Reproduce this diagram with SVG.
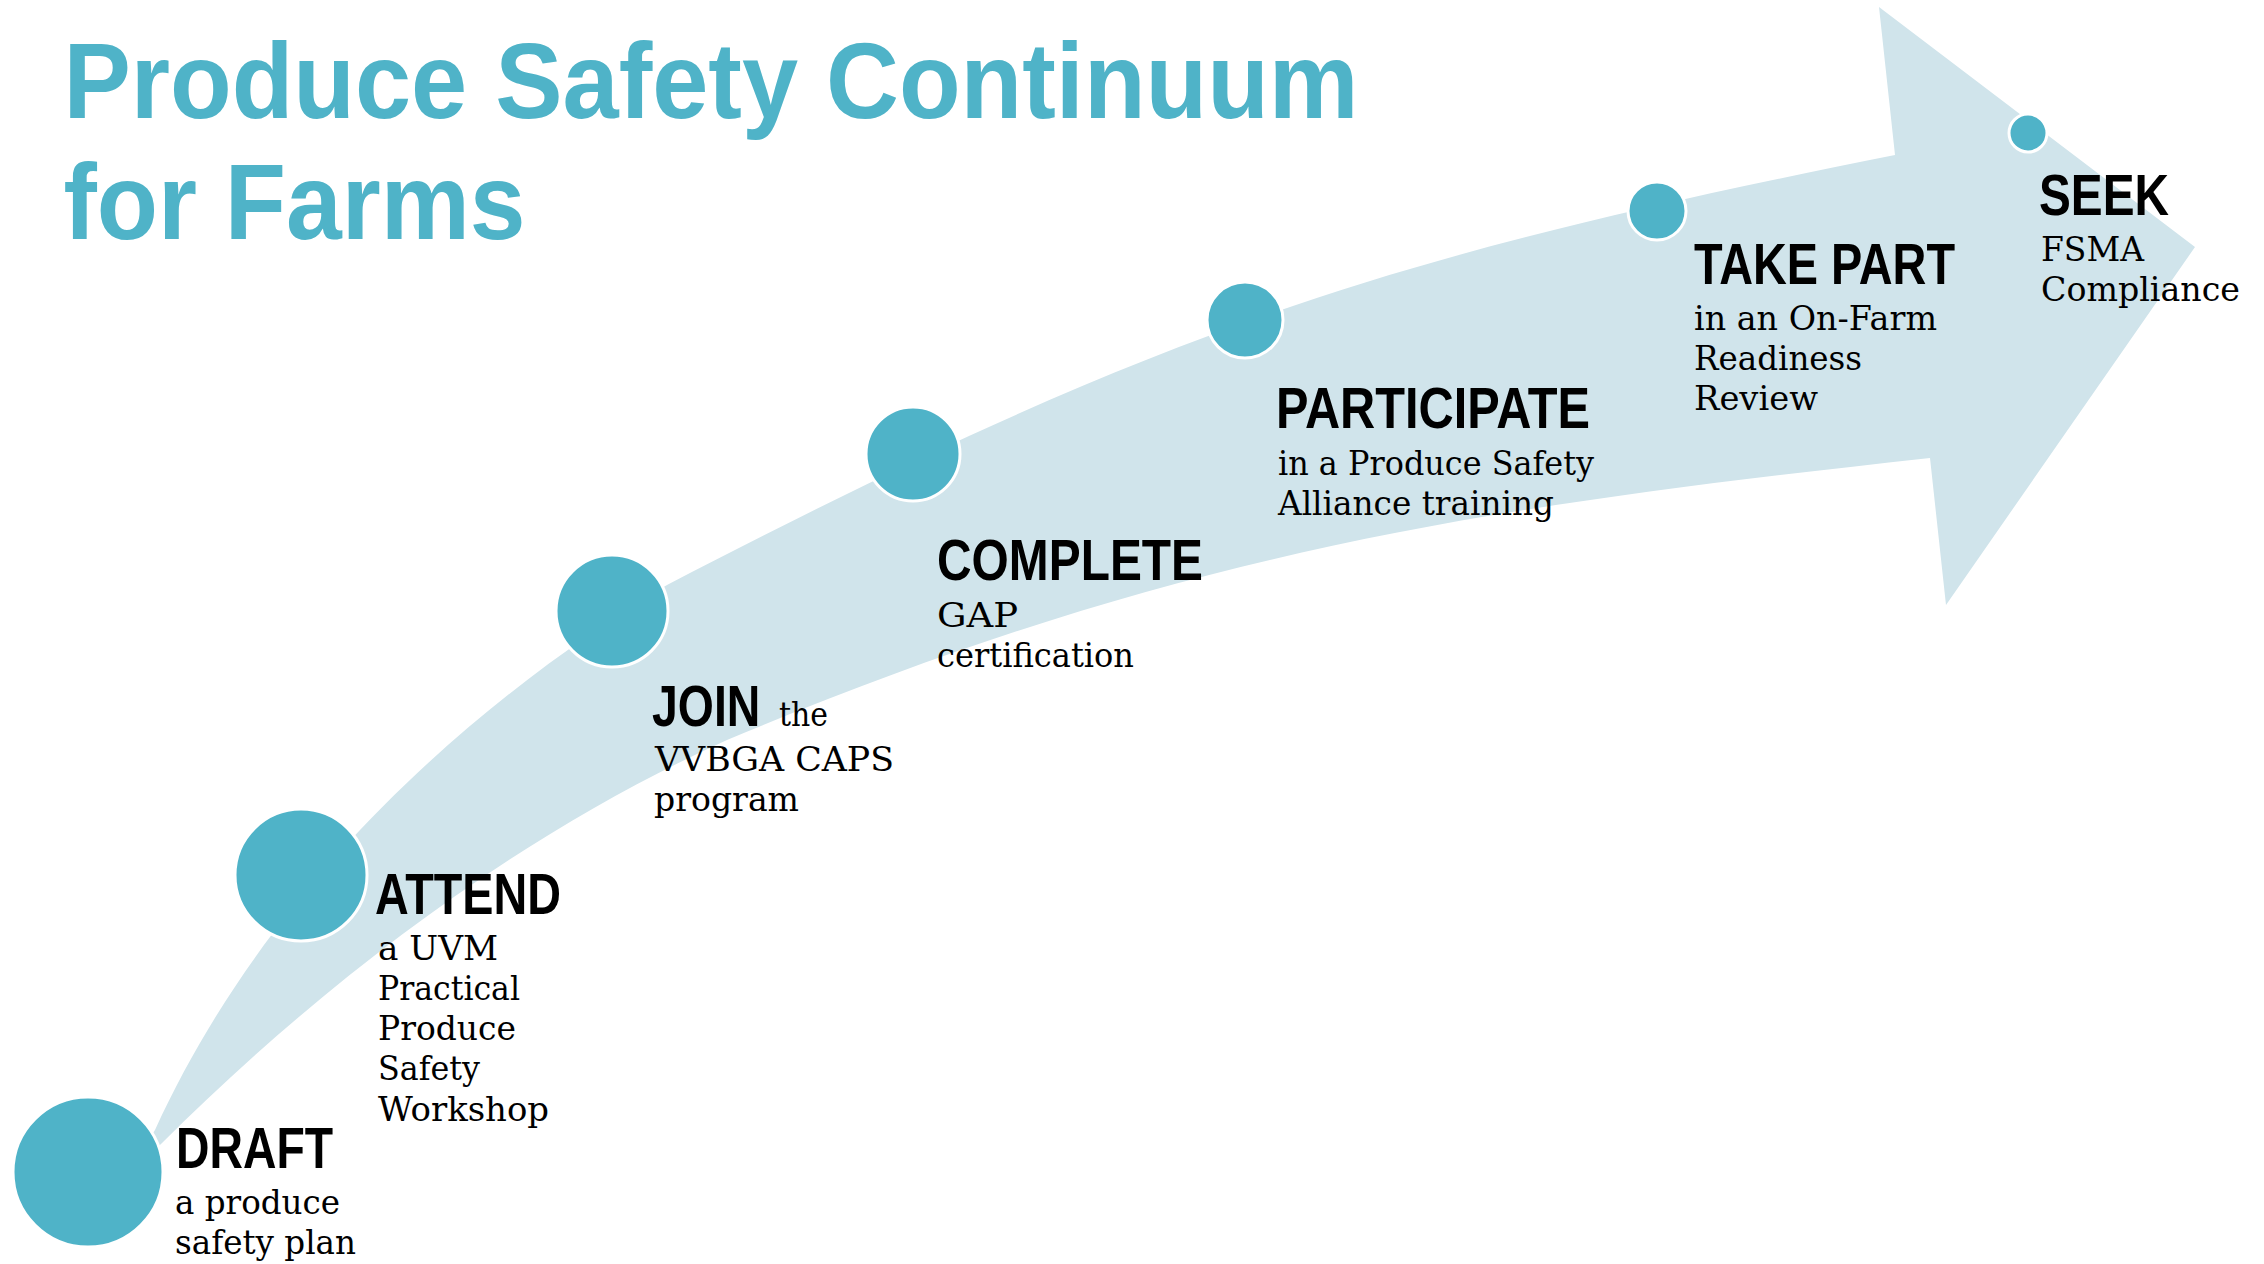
<svg xmlns="http://www.w3.org/2000/svg" width="2264" height="1264" viewBox="0 0 2264 1264">
  <style>
    .title { font-family: "Liberation Sans", Arial, sans-serif; font-weight: bold; font-size: 108px; fill: #4fb3c8; }
    .head { font-family: "Liberation Sans", Arial, sans-serif; font-weight: bold; font-size: 58px; fill: #000000; }
    .sub { font-family: "DejaVu Serif", "Liberation Serif", serif; font-size: 33px; font-weight: normal; fill: #000000; }
    .dot { fill: #4fb3c8; stroke: #ffffff; stroke-width: 3; }
    .band { fill: #d0e4eb; stroke: none; }
  </style>
  <rect x="0" y="0" width="2264" height="1264" fill="#ffffff"/>

  <g id="title">
    <text class="title" x="63.5" y="118" textLength="1295" lengthAdjust="spacingAndGlyphs">Produce Safety Continuum</text>
    <text class="title" x="63.5" y="239" textLength="462" lengthAdjust="spacingAndGlyphs">for Farms</text>
  </g>

  <g id="connectors">
    <path class="band" d="M 140 1152 L 155 1130 C 275 867, 497 687, 667 585 C 1167 325, 1395 255, 1895 155 L 1879 7 L 2195 247 L 1946 605 L 1930 458 C 1480 507.5, 1177 551, 727 740 C 527 830, 330 975, 160 1145 L 140 1158 Z"/>
  </g>

  <g id="node-draft">
    <circle class="dot" cx="88" cy="1172" r="75"/>
    <text class="head" x="176" y="1168" textLength="157" lengthAdjust="spacingAndGlyphs">DRAFT</text>
    <text class="sub" x="175" y="1214" textLength="165" lengthAdjust="spacingAndGlyphs">a produce</text>
    <text class="sub" x="175" y="1254" textLength="181" lengthAdjust="spacingAndGlyphs">safety plan</text>
  </g>

  <g id="node-attend">
    <circle class="dot" cx="301" cy="875" r="66"/>
    <text class="head" x="375" y="914" textLength="186" lengthAdjust="spacingAndGlyphs">ATTEND</text>
    <text class="sub" x="378" y="960" textLength="120" lengthAdjust="spacingAndGlyphs">a UVM</text>
    <text class="sub" x="378" y="1000" textLength="142" lengthAdjust="spacingAndGlyphs">Practical</text>
    <text class="sub" x="378" y="1040" textLength="138" lengthAdjust="spacingAndGlyphs">Produce</text>
    <text class="sub" x="378" y="1080" textLength="102" lengthAdjust="spacingAndGlyphs">Safety</text>
    <text class="sub" x="378" y="1121" textLength="171" lengthAdjust="spacingAndGlyphs">Workshop</text>
  </g>

  <g id="node-join">
    <circle class="dot" cx="612" cy="611" r="56"/>
    <text class="head" transform="translate(652 726) scale(0.8 1)" x="0" y="0">JOIN</text>
    <text class="sub" x="779" y="726" textLength="49" lengthAdjust="spacingAndGlyphs">the</text>
    <text class="sub" x="655" y="771" textLength="239" lengthAdjust="spacingAndGlyphs">VVBGA CAPS</text>
    <text class="sub" x="654" y="811" textLength="145" lengthAdjust="spacingAndGlyphs">program</text>
  </g>

  <g id="node-complete">
    <circle class="dot" cx="913" cy="454" r="47"/>
    <text class="head" x="937" y="580" textLength="266" lengthAdjust="spacingAndGlyphs">COMPLETE</text>
    <text class="sub" x="937" y="627" textLength="81" lengthAdjust="spacingAndGlyphs">GAP</text>
    <text class="sub" x="937" y="667" textLength="197" lengthAdjust="spacingAndGlyphs">certification</text>
  </g>

  <g id="node-participate">
    <circle class="dot" cx="1245" cy="320" r="38"/>
    <text class="head" x="1276" y="428" textLength="314" lengthAdjust="spacingAndGlyphs">PARTICIPATE</text>
    <text class="sub" x="1278" y="475" textLength="316" lengthAdjust="spacingAndGlyphs">in a Produce Safety</text>
    <text class="sub" x="1278" y="515" textLength="276" lengthAdjust="spacingAndGlyphs">Alliance training</text>
  </g>

  <g id="node-takepart">
    <circle class="dot" cx="1657" cy="211" r="29"/>
    <text class="head" x="1694" y="284" textLength="261" lengthAdjust="spacingAndGlyphs">TAKE PART</text>
    <text class="sub" x="1694" y="330" textLength="243" lengthAdjust="spacingAndGlyphs">in an On-Farm</text>
    <text class="sub" x="1694" y="370" textLength="168" lengthAdjust="spacingAndGlyphs">Readiness</text>
    <text class="sub" x="1694" y="410" textLength="124" lengthAdjust="spacingAndGlyphs">Review</text>
  </g>

  <g id="node-seek">
    <circle class="dot" cx="2028" cy="133" r="19"/>
    <text class="head" x="2039" y="215" textLength="130" lengthAdjust="spacingAndGlyphs">SEEK</text>
    <text class="sub" x="2041" y="261" textLength="103" lengthAdjust="spacingAndGlyphs">FSMA</text>
    <text class="sub" x="2041" y="301" textLength="199" lengthAdjust="spacingAndGlyphs">Compliance</text>
  </g>
</svg>
